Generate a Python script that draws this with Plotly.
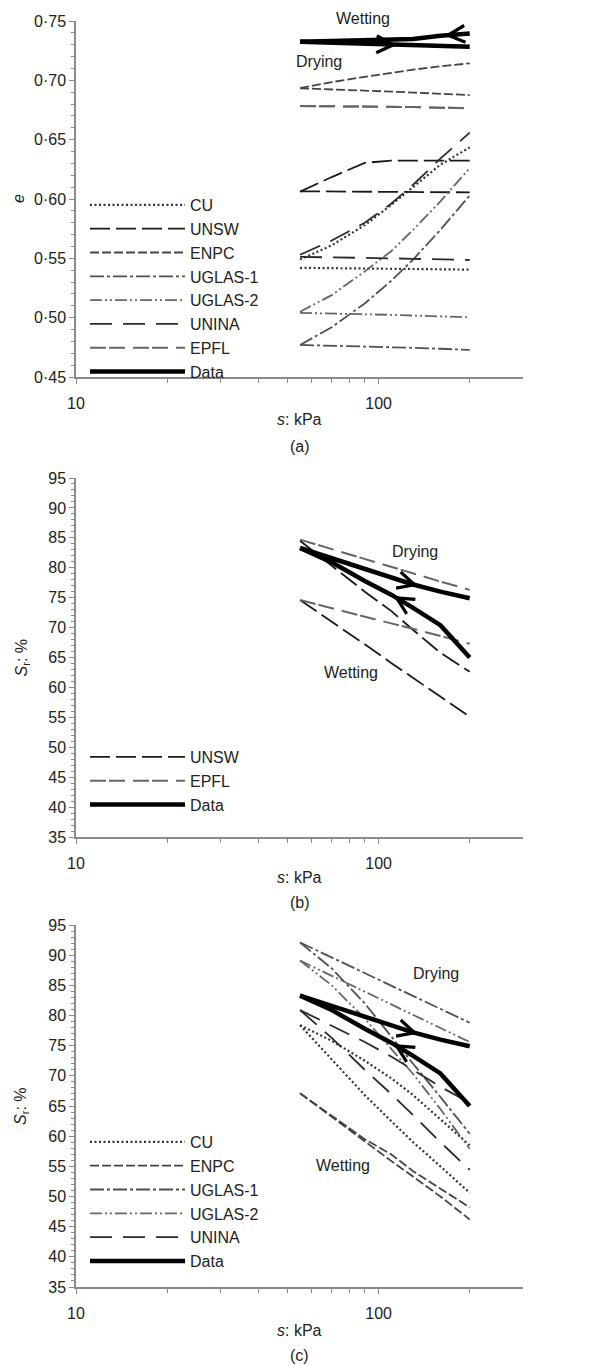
import numpy as np
import plotly.graph_objects as go

# ---------------- data (suction grid, kPa) ----------------
S = [55, 70, 90, 110, 130, 160, 200]

# Panel (a): void ratio e
A_DATA_DRY = [0.7325, 0.7318, 0.7308, 0.7300, 0.7295, 0.7288, 0.7283]
A_DATA_WET = [0.7325, 0.7330, 0.7335, 0.7340, 0.7348, 0.7375, 0.7395]
A_CU_1 = [0.5420, 0.5418, 0.5415, 0.5412, 0.5410, 0.5407, 0.5405]
A_CU_2 = [0.5490, 0.5610, 0.5780, 0.5950, 0.6100, 0.6290, 0.6435]
A_UNSW_1 = [0.6062, 0.6185, 0.6305, 0.6323, 0.6324, 0.6324, 0.6324]
A_UNSW_2 = [0.6065, 0.6064, 0.6063, 0.6062, 0.6061, 0.6059, 0.6056]
A_ENPC_1 = [0.6935, 0.6985, 0.7030, 0.7065, 0.7090, 0.7118, 0.7143]
A_ENPC_2 = [0.6933, 0.6925, 0.6915, 0.6905, 0.6897, 0.6886, 0.6876]
A_UGLAS1_1 = [0.4770, 0.4765, 0.4758, 0.4752, 0.4746, 0.4738, 0.4728]
A_UGLAS1_2 = [0.4770, 0.4920, 0.5120, 0.5310, 0.5490, 0.5740, 0.6030]
A_UGLAS2_1 = [0.5040, 0.5036, 0.5030, 0.5024, 0.5018, 0.5010, 0.5003]
A_UGLAS2_2 = [0.5050, 0.5190, 0.5390, 0.5560, 0.5740, 0.5980, 0.6260]
A_UNINA_1 = [0.5512, 0.5510, 0.5505, 0.5500, 0.5496, 0.5491, 0.5486]
A_UNINA_2 = [0.5530, 0.5650, 0.5800, 0.5960, 0.6120, 0.6340, 0.6560]
A_EPFL_1 = [0.6783, 0.6782, 0.6780, 0.6778, 0.6775, 0.6770, 0.6763]
A_EPFL_2 = [0.6783, 0.6782, 0.6780, 0.6778, 0.6775, 0.6770, 0.6765]

# Panels (b), (c): degree of saturation Sr (%)
SR_DATA_DRY = [83.3, 81.6, 79.7, 78.3, 77.2, 76.0, 74.9]
SR_DATA_WET = [83.3, 80.9, 77.8, 75.5, 73.3, 70.4, 65.0]

B_UNSW_1 = [84.5, 80.3, 76.0, 72.8, 69.6, 65.8, 62.6]
B_UNSW_2 = [74.6, 71.0, 67.2, 64.1, 61.6, 58.5, 55.1]
B_EPFL_1 = [84.7, 83.1, 81.5, 80.2, 79.1, 77.7, 76.3]
B_EPFL_2 = [74.6, 73.2, 71.8, 70.7, 69.8, 68.6, 67.3]

C_CU_1 = [78.4, 75.8, 72.5, 69.6, 66.8, 62.8, 58.5]
C_CU_2 = [78.4, 72.8, 66.8, 62.5, 59.0, 55.0, 50.6]
C_ENPC_1 = [67.1, 63.4, 59.5, 57.0, 54.2, 51.3, 48.2]
C_ENPC_2 = [67.1, 63.2, 59.0, 55.9, 53.3, 50.0, 46.2]
C_UGLAS1_1 = [92.1, 89.6, 87.0, 85.0, 83.3, 81.1, 78.8]
C_UGLAS1_2 = [92.1, 87.8, 82.0, 76.5, 72.0, 66.5, 60.4]
C_UGLAS2_1 = [89.1, 86.6, 84.0, 81.9, 80.1, 78.0, 75.6]
C_UGLAS2_2 = [89.1, 85.0, 79.5, 74.5, 70.3, 64.5, 57.9]
C_UNINA_1 = [80.9, 78.3, 75.6, 73.2, 71.0, 68.2, 65.5]
C_UNINA_2 = [80.9, 76.3, 71.0, 67.0, 63.5, 59.0, 54.4]

# arrow positions on data curves (kPa)
A_ARROW_DRY, A_ARROW_WET = 115, 165
BC_ARROW_DRY, BC_ARROW_WET = 135, 112

E_TICKS = [0.45, 0.50, 0.55, 0.60, 0.65, 0.70, 0.75]
E_TICKTEXT = ["0·45", "0·50", "0·55", "0·60", "0·65", "0·70", "0·75"]
SR_TICKS = [35, 40, 45, 50, 55, 60, 65, 70, 75, 80, 85, 90, 95]
X_TICKS = [10, 100]
X_MINOR = [20, 30, 40, 50, 60, 70, 80, 90, 200]

# ---------------- styles ----------------
FONT = "Liberation Sans, Arial, sans-serif"
AX = "#8a8a8a"
TXT = "#222222"
STYLE = {
    "CU": dict(color="#333333", width=2.2, dash="2px,2.5px"),
    "UNSW": dict(color="#1a1a1a", width=1.8, dash="20px,6px"),
    "ENPC": dict(color="#444444", width=1.8, dash="9px,3px"),
    "UGLAS-1": dict(color="#505050", width=1.8, dash="14px,3px,3px,3px"),
    "UGLAS-2": dict(color="#666666", width=1.8, dash="12px,3px,2px,3px,2px,3px"),
    "UNINA": dict(color="#2a2a2a", width=1.8, dash="22px,11px"),
    "EPFL": dict(color="#666666", width=2.0, dash="16px,3px,16px,8px"),
    "Data": dict(color="#000000", width=4.5),
}

# page body has an 8px margin, so figure pixels = page pixels - 8
W, H = 591, 1357
XL, XR = 68, 515
PANELS = {  # top, bottom pixel rows of each plot area (figure pixels)
    "a": (13, 369),
    "b": (470, 829),
    "c": (917, 1279),
}
XTITLE_Y = {"a": 412, "b": 869, "c": 1322}
CAPTION_Y = {"a": 439, "b": 894, "c": 1347}
YTITLE_X = {"a": 10, "b": 14, "c": 13}
LEGEND_TOP = {"a": 180, "b": 732, "c": 1117}


def joined(*curves):
    xs, ys = [], []
    for c in curves:
        if xs:
            xs.append(None)
            ys.append(None)
        xs += list(S)
        ys += list(c)
    return xs, ys


fig = go.Figure()


def add(name, curves, xa, ya, legend):
    xs, ys = joined(*curves)
    fig.add_trace(go.Scatter(
        x=xs, y=ys, mode="lines", name=name, line=STYLE[name],
        xaxis=xa, yaxis=ya, legend=legend, legendgroup=legend + name,
        connectgaps=False, hoverinfo="skip"))


# panel (a)
add("CU", [A_CU_1, A_CU_2], "x", "y", "legend")
add("UNSW", [A_UNSW_1, A_UNSW_2], "x", "y", "legend")
add("ENPC", [A_ENPC_1, A_ENPC_2], "x", "y", "legend")
add("UGLAS-1", [A_UGLAS1_1, A_UGLAS1_2], "x", "y", "legend")
add("UGLAS-2", [A_UGLAS2_1, A_UGLAS2_2], "x", "y", "legend")
add("UNINA", [A_UNINA_1, A_UNINA_2], "x", "y", "legend")
add("EPFL", [A_EPFL_1, A_EPFL_2], "x", "y", "legend")
add("Data", [A_DATA_DRY, A_DATA_WET], "x", "y", "legend")

# panel (b)
add("UNSW", [B_UNSW_1, B_UNSW_2], "x2", "y2", "legend2")
add("EPFL", [B_EPFL_1, B_EPFL_2], "x2", "y2", "legend2")
add("Data", [SR_DATA_DRY, SR_DATA_WET], "x2", "y2", "legend2")

# panel (c)
add("CU", [C_CU_1, C_CU_2], "x3", "y3", "legend3")
add("ENPC", [C_ENPC_1, C_ENPC_2], "x3", "y3", "legend3")
add("UGLAS-1", [C_UGLAS1_1, C_UGLAS1_2], "x3", "y3", "legend3")
add("UGLAS-2", [C_UGLAS2_1, C_UGLAS2_2], "x3", "y3", "legend3")
add("UNINA", [C_UNINA_1, C_UNINA_2], "x3", "y3", "legend3")
add("Data", [SR_DATA_DRY, SR_DATA_WET], "x3", "y3", "legend3")


def ydom(p):
    t, b = PANELS[p]
    return [1 - b / H, 1 - t / H]


def xaxis(anchor):
    return dict(
        type="log", range=[1, np.log10(300)], domain=[XL / W, XR / W],
        anchor=anchor, tickvals=X_TICKS, ticktext=[str(v) for v in X_TICKS],
        ticks="outside", ticklen=5, tickcolor=AX, showline=True, linecolor=AX,
        linewidth=1.5, showgrid=False, zeroline=False, ticklabelstandoff=6,
        minor=dict(tickvals=X_MINOR, ticks="outside", ticklen=4, tickcolor=AX),
        tickfont=dict(family=FONT, size=16, color=TXT), automargin=False)


def yaxis(anchor, p, rng, tv, tt, minor_dt):
    return dict(
        range=rng, domain=ydom(p), anchor=anchor, tickvals=tv, ticktext=tt,
        ticks="outside", ticklen=5, tickcolor=AX, showline=True, linecolor=AX,
        linewidth=1.5, showgrid=False, zeroline=False,
        minor=dict(tickmode="linear", tick0=rng[0], dtick=minor_dt, ticks="outside",
                   ticklen=3, tickcolor=AX),
        tickfont=dict(family=FONT, size=16, color=TXT), automargin=False)


def legend(p):
    return dict(x=77 / W, y=1 - LEGEND_TOP[p] / H, xanchor="left", yanchor="top",
                bgcolor="rgba(0,0,0,0)", itemwidth=95, tracegroupgap=0,
                font=dict(family=FONT, size=16, color=TXT), traceorder="normal")


ann = []


def arrow(xr, yr, ys, s_head, direction):
    ls = np.log10(S)
    lh = np.log10(s_head)
    lt = lh - 0.05 * direction
    return dict(x=lh, y=float(np.interp(lh, ls, ys)), ax=lt, ay=float(np.interp(lt, ls, ys)),
                xref=xr, yref=yr, axref=xr, ayref=yr, text="", showarrow=True,
                arrowhead=5, arrowsize=1.1, arrowwidth=3, arrowcolor="black")


ann.append(arrow("x", "y", A_DATA_DRY, A_ARROW_DRY, +1))
ann.append(arrow("x", "y", A_DATA_WET, A_ARROW_WET, -1))
for xr, yr in (("x2", "y2"), ("x3", "y3")):
    ann.append(arrow(xr, yr, SR_DATA_DRY, BC_ARROW_DRY, +1))
    ann.append(arrow(xr, yr, SR_DATA_WET, BC_ARROW_WET, -1))


def label(text, xr, yr, s, v):
    return dict(text=text, x=np.log10(s), y=v, xref=xr, yref=yr, showarrow=False,
                xanchor="center", yanchor="middle",
                font=dict(family=FONT, size=16, color=TXT))


ann += [
    dict(text="Wetting", x=np.log10(89), y=(0.7525 - 0.45) / 0.30, xref="x", yref="y domain",
         xanchor="center", yanchor="middle", showarrow=False,
         font=dict(family=FONT, size=16, color=TXT)),
    label("Drying", "x", "y", 63.5, 0.7158),
    label("Drying", "x2", "y2", 132, 82.7),
    label("Wetting", "x2", "y2", 81, 62.5),
    label("Drying", "x3", "y3", 155, 87.0),
    label("Wetting", "x3", "y3", 76, 55.2),
]

xc = (XL + XR) / 2 / W
for p, cap in (("a", "(a)"), ("b", "(b)"), ("c", "(c)")):
    t, b = PANELS[p]
    ann.append(dict(text="<i>s</i>: kPa", x=xc, y=1 - XTITLE_Y[p] / H, xref="paper",
                    yref="paper", xanchor="center", yanchor="middle", showarrow=False,
                    font=dict(family=FONT, size=16, color=TXT)))
    ann.append(dict(text=cap, x=xc, y=1 - CAPTION_Y[p] / H, xref="paper", yref="paper",
                    xanchor="center", yanchor="middle", showarrow=False,
                    font=dict(family=FONT, size=16, color=TXT)))
    ytitle = "<i>e</i>" if p == "a" else "<i>S</i><sub>r</sub>: %"
    ann.append(dict(text=ytitle, x=YTITLE_X[p] / W, y=1 - (t + b) / 2 / H, xref="paper",
                    yref="paper", xanchor="center", yanchor="middle", textangle=-90,
                    showarrow=False, font=dict(family=FONT, size=16, color=TXT)))

fig.update_layout(
    width=W, height=H, autosize=False, margin=dict(l=0, r=0, t=0, b=0),
    paper_bgcolor="white", plot_bgcolor="white", showlegend=True,
    xaxis=xaxis("y"), xaxis2=xaxis("y2"), xaxis3=xaxis("y3"),
    yaxis=yaxis("x", "a", [0.45, 0.75], E_TICKS, E_TICKTEXT, 0.01),
    yaxis2=yaxis("x2", "b", [35, 95], SR_TICKS, [str(v) for v in SR_TICKS], 1),
    yaxis3=yaxis("x3", "c", [35, 95], SR_TICKS, [str(v) for v in SR_TICKS], 1),
    legend=legend("a"), legend2=legend("b"), legend3=legend("c"),
    annotations=ann,
)

fig.write_html("out.html")
